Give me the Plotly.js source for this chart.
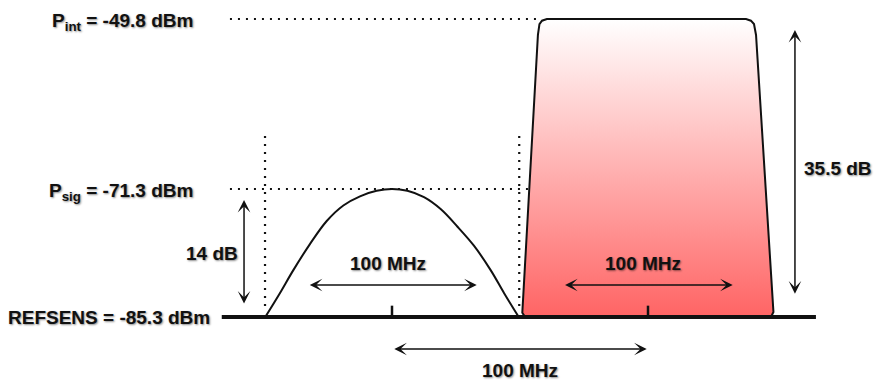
<!DOCTYPE html>
<html>
<head>
<meta charset="utf-8">
<script src="https://cdn.plot.ly/plotly-3.0.1.min.js"></script>
<style>html,body{margin:0;padding:0;background:#fff;}#chart{width:874px;height:381px;}</style>
</head>
<body>
<div id="chart"></div>
<script>
// ---- data ----
const powerNames = ['REFSENS', 'P<sub>sig</sub>', 'P<sub>int</sub>'];
const powerDbm = [-85.3, -71.3, -49.8];
const channelCentersMHz = [0, 100];
const bandwidthMHz = 100;
// wanted signal spectrum (MHz offset, dBm)
const sigFreq = [-49.5, -43.8, -38.6, -32.0, -25.5, -19.0, -12.5, -6.0, 0, 6.0, 12.5, 19.0, 25.5, 32.0, 38.6, 43.8, 49.5];
const sigLevel = [-85.3, -82.7, -80.2, -77.3, -74.8, -73.1, -72.1, -71.5, -71.3, -71.5, -72.2, -73.5, -75.4, -77.5, -80.2, -82.7, -85.3];
// interferer block outline (MHz offset, dBm)
const intFreq = [52.0, 50.9, 57.0, 57.6, 58.6, 60.5, 138.3, 140.2, 141.4, 142.2, 149.0, 148.2, 146.9, 52.0];
const intLevel = [-85.3, -84.8, -51.7, -50.4, -50.0, -49.8, -49.8, -50.0, -50.4, -51.7, -84.7, -85.2, -85.3, -85.3];

// ---- derived ----
const refsens = powerDbm[0], psig = powerDbm[1], pint = powerDbm[2];
const fmt = v => String(parseFloat(v.toFixed(1)));
const lbl = i => powerNames[i] + ' = ' + fmt(powerDbm[i]) + ' dBm';
const half = bandwidthMHz / 2;

const ink = '#111';
const dotted = {color: ink, width: 2.2, dash: '2px,6px'};
// traces on y2 (overlaying axis) are layered above those on y
const traces = [
  {x: [-63.3, 66.3], y: [psig, psig], mode: 'lines', line: dotted},
  {x: [-half + 0.4, -half + 0.4], y: [-65.5, refsens + 0.6], mode: 'lines', line: dotted},
  {x: [half - 0.3, half - 0.3], y: [-65.5, refsens + 0.6], mode: 'lines', line: dotted},
  {x: sigFreq, y: sigLevel, mode: 'lines', line: {color: ink, width: 2, shape: 'spline', smoothing: 1}},
  {x: [-63.3, 57.5], y: [pint, pint], yaxis: 'y2', mode: 'lines', line: dotted},
  {x: intFreq, y: intLevel, yaxis: 'y2', mode: 'lines', fill: 'toself',
   fillgradient: {type: 'vertical', colorscale: [[0, '#ff6464'], [1, '#ffffff']]},
   line: {color: ink, width: 2}},
  {x: [-66.5, 165.6], y: [refsens, refsens], yaxis: 'y2', mode: 'lines', line: {color: ink, width: 4}},
  {x: [channelCentersMHz[0], channelCentersMHz[0]], y: [refsens, refsens + 1.35], yaxis: 'y2', mode: 'lines', line: {color: ink, width: 2.5}},
  {x: [channelCentersMHz[1], channelCentersMHz[1]], y: [refsens, refsens + 1.35], yaxis: 'y2', mode: 'lines', line: {color: ink, width: 2.5}}
];

const font = {family: 'Arial, "Liberation Sans", sans-serif', size: 19, color: ink, weight: 700,
              shadow: '1px 1px 2px rgba(0,0,0,0.45)'};
function txt(x, y, text, opts) {
  return Object.assign({x: x, y: y, xref: 'x', yref: 'y', text: text, showarrow: false, font: font,
                        xanchor: 'center', yanchor: 'middle'}, opts || {});
}
function arrow(x, y, ax, ay, yref) {
  return {x: x, y: y, ax: ax, ay: ay, xref: 'x', yref: yref, axref: 'x', ayref: yref, text: '',
          showarrow: true, arrowside: 'end+start', arrowhead: 3, arrowsize: 1.4, arrowwidth: 1.5,
          arrowcolor: ink, standoff: 0, startstandoff: 0};
}

const annotations = [
  txt(-77.0, pint, lbl(2), {yref: 'y2', xanchor: 'right', yshift: -3}),
  txt(-77.0, psig, lbl(1), {xanchor: 'right', yshift: -3}),
  txt(-70.3, refsens, lbl(0), {xanchor: 'right'}),
  txt(-70.3, -78.33, fmt(psig - refsens) + ' dB'),
  txt(174.2, -67.55, fmt(pint - refsens) + ' dB', {yref: 'y2'}),
  txt(channelCentersMHz[0] - 1.5, -79.45, bandwidthMHz + ' MHz'),
  txt(channelCentersMHz[1] - 2.0, -79.45, bandwidthMHz + ' MHz'),
  txt((channelCentersMHz[0] + channelCentersMHz[1]) / 2, -91.1, (channelCentersMHz[1] - channelCentersMHz[0]) + ' MHz'),
  arrow(-57.8, -72.5, -57.8, -84.0, 'y'),
  arrow(157.4, -51.1, 157.4, -82.7, 'y2'),
  arrow(channelCentersMHz[0] + 33.1, -81.8, channelCentersMHz[0] - 32.7, -81.8, 'y'),
  arrow(channelCentersMHz[1] + 33.1, -81.8, channelCentersMHz[1] - 33.0, -81.8, 'y'),
  arrow(channelCentersMHz[1] - 0.5, -88.8, channelCentersMHz[0] + 0.3, -88.8, 'y')
];

const layout = {
  width: 874, height: 381,
  margin: {l: 0, r: 0, t: 0, b: 0},
  paper_bgcolor: '#ffffff', plot_bgcolor: '#ffffff',
  showlegend: false,
  xaxis: {range: [-153.125, 188.28], visible: false, fixedrange: true},
  yaxis: {range: [-92.3, -50.63], visible: false, fixedrange: true},
  yaxis2: {range: [-92.924, -47.535], overlaying: 'y', visible: false, fixedrange: true},
  annotations: annotations
};

Plotly.newPlot('chart', traces, layout, {staticPlot: true, displayModeBar: false});
</script>
</body>
</html>
